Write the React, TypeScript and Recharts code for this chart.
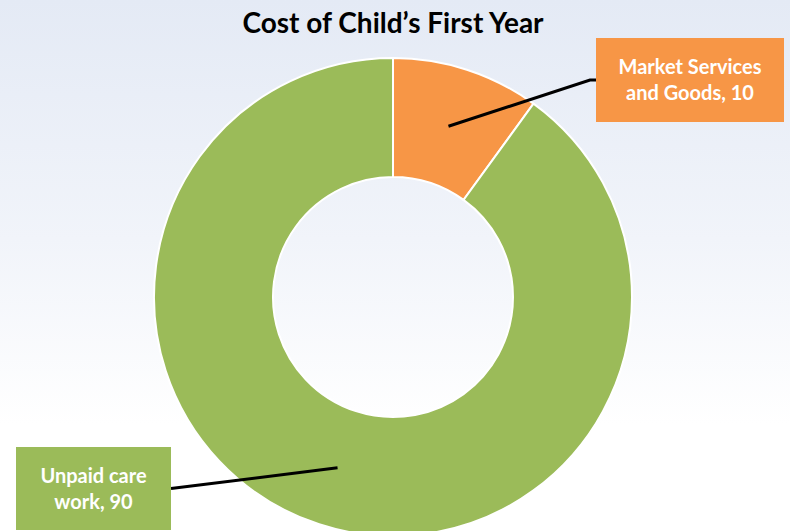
import React from 'react';
import { PieChart, Pie, Cell } from 'recharts';

const categories = ['Market Services and Goods', 'Unpaid care work'];
const values = [10, 90];
const labelLines = [
  ['Market Services', 'and Goods, 10'],
  ['Unpaid care', 'work, 90'],
];
const colors = ['#F79646', '#9BBB59'];

const data = categories.map((name, i) => ({ name, value: values[i] }));

// box placement relative to the pie centre
const boxes = [
  { dx: 203, dy: -259, w: 188, h: 84, elbow: 6 },
  { dx: -377, dy: 150, w: 155, h: 83, elbow: 0 },
];

const RAD = Math.PI / 180;

const renderLabel = (props: any) => {
  const { cx, cy, midAngle, innerRadius, outerRadius, index } = props;
  const r = (innerRadius + outerRadius) / 2;
  const sx = cx + r * Math.cos(-midAngle * RAD);
  const sy = cy + r * Math.sin(-midAngle * RAD);
  const b = boxes[index];
  const bx = cx + b.dx;
  const by = cy + b.dy;
  const my = by + b.h / 2;
  const right = sx > bx;
  const ex = right ? bx + b.w : bx;
  const points = right
    ? `${sx},${sy} ${ex},${my}`
    : `${sx},${sy} ${ex - b.elbow},${my} ${ex},${my}`;
  const lines = labelLines[index];
  return (
    <g>
      <polyline points={points} fill="none" stroke="#000" strokeWidth={3} />
      <rect x={bx} y={by} width={b.w} height={b.h} fill={colors[index]} />
      {lines.map((t, k) => (
        <text
          key={k}
          x={bx + b.w / 2}
          y={my + (k === 0 ? -6 : 20)}
          textAnchor="middle"
          fill="#fff"
          fontSize={20}
          fontWeight="bold"
          fontFamily="Lato, 'Open Sans', sans-serif"
        >
          {t}
        </text>
      ))}
    </g>
  );
};

export default function App() {
  return (
    <div
      style={{
        position: 'fixed',
        left: 0,
        top: 0,
        width: 790,
        height: 531,
        overflow: 'hidden',
        background: 'linear-gradient(180deg, #e4eaf5 0%, #f1f4fa 45%, #ffffff 80%)',
      }}
    >
      <PieChart
        width={790}
        height={531}
        margin={{ top: 0, right: 0, bottom: 0, left: 0 }}
        style={{ position: 'absolute', left: 0, top: 0 }}
      >
        <Pie
          data={data}
          dataKey="value"
          nameKey="name"
          cx={393}
          cy={297}
          innerRadius={120}
          outerRadius={239}
          startAngle={90}
          endAngle={-270}
          stroke="#fff"
          strokeWidth={2}
          label={renderLabel}
          labelLine={false}
          isAnimationActive={false}
        >
          {data.map((d, i) => (
            <Cell key={d.name} fill={colors[i]} />
          ))}
        </Pie>
      </PieChart>
      <div
        style={{
          position: 'absolute',
          top: 5,
          left: 0,
          width: 786,
          textAlign: 'center',
          fontFamily: "Lato, 'Open Sans', sans-serif",
          fontWeight: 'bold',
          fontSize: 28,
          lineHeight: '34px',
          color: '#000',
        }}
      >
        Cost of Child’s First Year
      </div>
    </div>
  );
}
